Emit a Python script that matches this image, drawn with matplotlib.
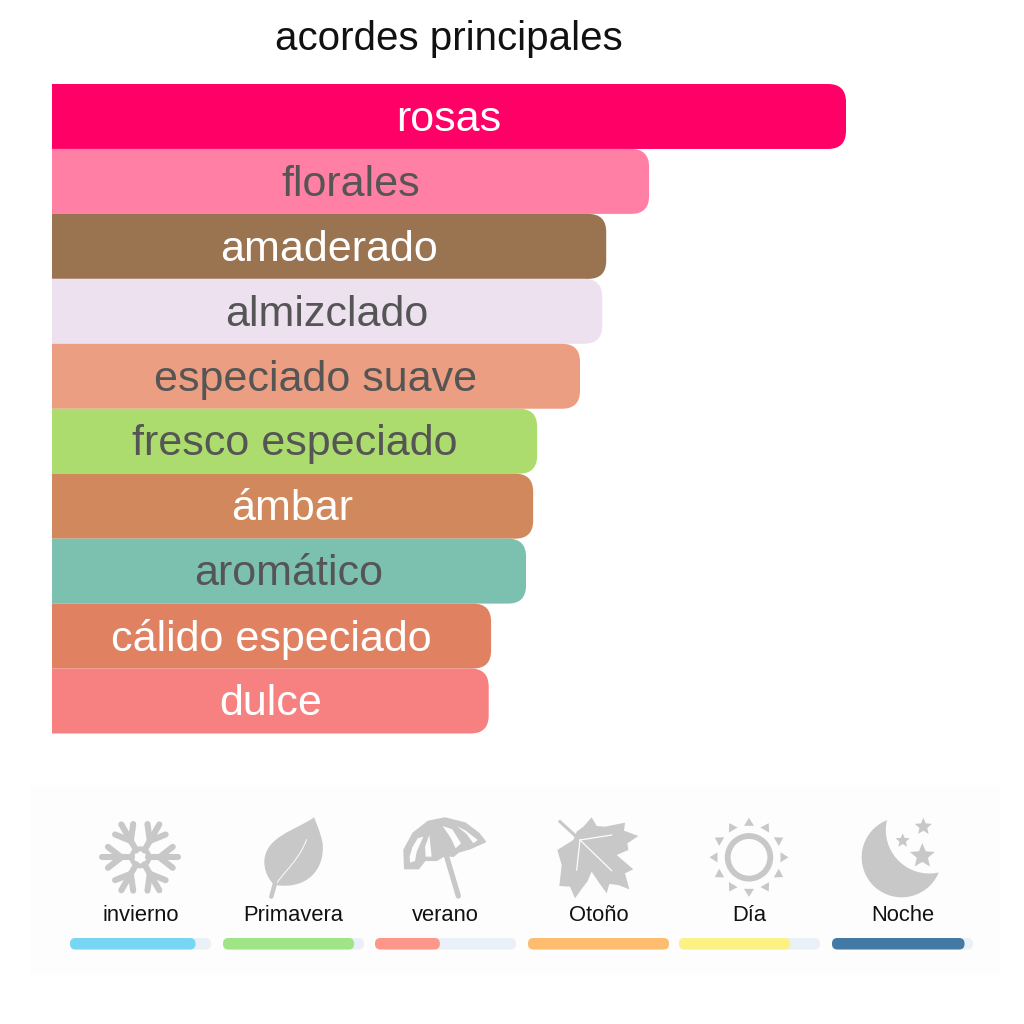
import matplotlib
matplotlib.use('Agg')
import matplotlib.pyplot as plt
import numpy as np
from matplotlib.patches import FancyBboxPatch, PathPatch, Polygon, Circle, Rectangle
from matplotlib.path import Path

# data
accords = ['rosas', 'florales', 'amaderado', 'almizclado', 'especiado suave',
           'fresco especiado', 'ámbar', 'aromático', 'cálido especiado', 'dulce']
accord_values = [100, 75.2, 69.8, 69.3, 66.5, 61.1, 60.6, 59.7, 55.3, 55.0]
accord_colors = ['#FF0066', '#FF7FA5', '#9A7350', '#EDE1F0', '#EB9E82',
                 '#ADDC6E', '#D1885C', '#7CC1B0', '#E08262', '#F78181']
accord_text = ['white', '#555555', 'white', '#555555', '#555555',
               '#555555', 'white', '#555555', 'white', 'white']

seasons = ['invierno', 'Primavera', 'verano', 'Otoño', 'Día', 'Noche']
season_values = [89, 93, 46, 100, 79, 94]
season_colors = ['#76D6F4', '#A0E585', '#FF968A', '#FDBC6E', '#FCF283', '#4479A3']
season_left = [70, 223, 375, 528, 679, 832]

plt.rcParams['font.family'] = ['Liberation Sans', 'DejaVu Sans']
GRAY = '#C8C8C8'
PANEL = '#FDFDFD'

fig = plt.figure(figsize=(10.24, 10.24), dpi=100, facecolor='white')


def px_axes(x0, y0, x1, y1, **kw):
    # axes placed by pixel box, y measured from the top
    a = fig.add_axes([x0 / 1024, 1 - y1 / 1024, (x1 - x0) / 1024, (y1 - y0) / 1024], **kw)
    a.axis('off')
    return a


# full page layer for title, panel and icons
page = px_axes(0, 0, 1024, 1024)
page.set_xlim(0, 1024)
page.set_ylim(1024, 0)
page.add_patch(Rectangle((30, 785), 970, 190, fc=PANEL, ec='none'))
page.text(449, 39.5, 'acordes principales', ha='center', va='center', fontsize=29, color='#111111')


# main bars
ax = px_axes(52, 84, 846, 733.5)
ax.set_xlim(0, 100)
ax.set_ylim(len(accords) - 0.5, -0.5)
rx = 18 / 7.94
ry = 18 / 64.95
for i, (name, val, col, tc) in enumerate(zip(accords, accord_values, accord_colors, accord_text)):
    ax.add_patch(FancyBboxPatch((-10, i - 0.5), val + 10, 1,
                                boxstyle='round,pad=0,rounding_size=%f' % rx,
                                mutation_aspect=ry / rx, fc=col, ec='none'))
    ax.text(val / 2, i + 0.05, name, ha='center', va='center', fontsize=31, color=tc)

# season tracks
for name, left, val, col in zip(seasons, season_left, season_values, season_colors):
    t = px_axes(left, 938, left + 141, 949.5)
    t.set_xlim(0, 100)
    t.set_ylim(0, 1)
    asp = (1 / 11.5) / (100 / 141)
    r = 5.5 * 100 / 141
    t.add_patch(FancyBboxPatch((0, 0), 100, 1, boxstyle='round,pad=0,rounding_size=%f' % r,
                               mutation_aspect=asp, fc='#E9F0F7', ec='none'))
    t.add_patch(FancyBboxPatch((0, 0), val, 1, boxstyle='round,pad=0,rounding_size=%f' % r,
                               mutation_aspect=asp, fc=col, ec='none'))
    page.text(left + 70.5, 915.5, name, ha='center', va='center', fontsize=15.8, color='#111111')


def crop(ox, oy, pts):
    return [(x / 3 + ox, y / 3 + oy) for x, y in pts]


# snowflake
cx, cy = 92 + 145 / 3, 810 + 142 / 3
for a in np.radians(np.arange(0, 360, 60)):
    d = np.array([np.cos(a), np.sin(a)])
    page.plot([cx + 8 * d[0], cx + 38 * d[0]], [cy + 8 * d[1], cy + 38 * d[1]],
              color=GRAY, lw=4.4, solid_capstyle='round')
    for s in (-1, 1):
        b = a + s * np.radians(38)
        p = np.array([cx, cy]) + 19 * d
        page.plot([p[0], p[0] + 17 * np.cos(b)], [p[1], p[1] + 17 * np.sin(b)],
                  color=GRAY, lw=4.4, solid_capstyle='round')
page.add_patch(Circle((cx, cy), 11, fc=GRAY, ec='none'))
page.add_patch(Polygon([(cx + 7 * np.cos(a), cy + 7 * np.sin(a)) for a in np.radians(np.arange(0, 360, 60))],
                       closed=True, fc=PANEL, ec='none'))

# leaf
pts = [(852, 112), (800, 150), (700, 170), (703, 250), (705, 285), (725, 310), (735, 315),
       (830, 330), (885, 270), (878, 190), (870, 150), (852, 112), (852, 112)]
codes = [Path.MOVETO] + [Path.CURVE4] * 12
page.add_patch(PathPatch(Path(crop(30, 780, pts), codes), fc=GRAY, ec='none'))
page.add_patch(PathPatch(Path(crop(30, 780, [(830, 178), (800, 260), (735, 290), (722, 350)]),
                              [Path.MOVETO] + [Path.CURVE4] * 3),
                         fc='none', ec=PANEL, lw=0.7))
page.plot(*zip(*crop(30, 780, [(735, 310), (724, 350)])), color=GRAY, lw=3.2, solid_capstyle='round')

# umbrella
canopy = [(30, 175), (28, 120), (55, 70), (100, 35), (150, 25), (210, 40), (250, 70), (270, 95),
          (225, 115), (190, 125), (175, 138), (150, 135), (125, 150), (90, 150), (70, 175)]
page.add_patch(Polygon(crop(395, 810, canopy), closed=True, fc=GRAY, ec=GRAY, lw=1.5, joinstyle='round'))
for panel in ([(45, 158), (60, 153), (65, 125), (85, 80), (68, 85), (52, 112), (44, 140)],
              [(103, 75), (110, 140), (92, 140), (90, 110)],
              [(143, 48), (172, 58), (198, 100), (182, 115), (168, 85)],
              [(185, 48), (212, 62), (248, 90), (235, 100), (215, 72)]):
    page.add_patch(Polygon(crop(395, 810, panel), closed=True, fc=PANEL, ec='none'))
page.plot(*zip(*crop(395, 810, [(155, 140), (190, 258)])), color=GRAY, lw=3.8, solid_capstyle='round')

# maple leaf
maple = [(125, 22), (140, 48), (165, 50), (225, 38), (222, 62), (265, 78), (232, 100), (235, 120),
         (200, 135), (250, 178), (225, 190), (238, 238), (205, 225), (178, 222), (170, 250),
         (145, 215), (125, 185), (112, 215), (100, 230), (75, 265), (60, 230), (28, 228),
         (35, 165), (22, 120), (70, 90), (80, 65), (100, 50)]
page.add_patch(Polygon(crop(550, 810, maple), closed=True, fc=GRAY, ec='none'))
page.plot(*zip(*crop(550, 810, [(30, 35), (90, 90)])), color=GRAY, lw=2.2)
for end in [(185, 75), (185, 182), (80, 180)]:
    page.plot(*zip(*crop(550, 810, [(90, 90), end])), color=PANEL, lw=0.9)

# sun
sx, sy = crop(510, 780, [(717, 232)])[0]
page.add_patch(Circle((sx, sy), 21.3, fc='none', ec=GRAY, lw=4.2))
for a in np.radians(np.arange(0, 360, 30)):
    d = np.array([np.cos(a), np.sin(a)])
    n = np.array([-d[1], d[0]])
    c = np.array([sx, sy])
    tri = [c + 39.5 * d, c + 31.5 * d + 5 * n, c + 31.5 * d - 5 * n]
    page.add_patch(Polygon(tri, closed=True, fc=GRAY, ec='none'))

# moon and stars
page.add_patch(Circle(crop(510, 780, [(1175, 232)])[0], 40, fc=GRAY, ec='none'))
page.add_patch(Circle(crop(510, 780, [(1258, 150)])[0], 43.5, fc=PANEL, ec='none'))
for x, y, r in [(1240, 140, 9), (1178, 182, 7.5), (1237, 228, 13)]:
    c = np.array(crop(510, 780, [(x, y)])[0])
    star = []
    for k in range(10):
        ang = -np.pi / 2 + k * np.pi / 5
        rad = r if k % 2 == 0 else r * 0.45
        star.append(c + rad * np.array([np.cos(ang), np.sin(ang)]))
    page.add_patch(Polygon(star, closed=True, fc=GRAY, ec='none'))

fig.savefig('out.png', dpi=100)
